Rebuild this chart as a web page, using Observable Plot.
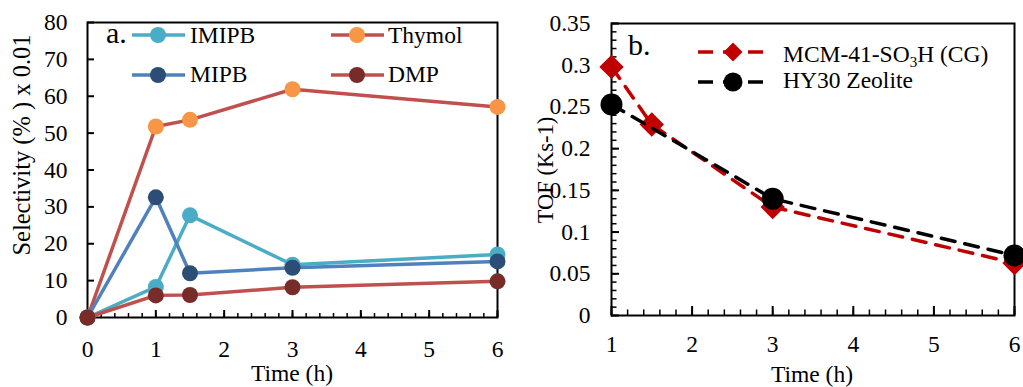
<!DOCTYPE html>
<html>
<head>
<meta charset="utf-8">
<script src="https://cdn.jsdelivr.net/npm/d3@7"></script>
<script src="https://cdn.jsdelivr.net/npm/@observablehq/plot@0.6"></script>
<style>
  html, body { margin: 0; padding: 0; background: white; }
  #wrap { position: relative; width: 1023px; height: 387px; overflow: hidden; font-family: "Liberation Serif", "Times New Roman", serif; }
  #left, #right, #overlay { position: absolute; top: 0; }
  #left { left: 0; }
  #right { left: 520px; }
  #overlay { left: 0; pointer-events: none; }
  svg { overflow: visible; }
</style>
</head>
<body>
<div id="wrap">
  <div id="left"></div>
  <div id="right"></div>
  <svg id="overlay" width="1023" height="387"></svg>
</div>
<script>
// ---------- Panel a data ----------
const times = [0, 1, 1.5, 3, 6];
const imipb = [0, 8.3, 27.7, 14.3, 17.1];
const thymol = [0, 51.8, 53.6, 61.9, 57.1];
const mipb = [0, 32.6, 12.0, 13.5, 15.2];
const dmp = [0, 6.0, 6.1, 8.2, 9.8];
const seriesNames = ["IMIPB", "Thymol", "MIPB", "DMP"];
const leftXTicks = [0, 1, 2, 3, 4, 5, 6];
const leftYTicks = [0, 10, 20, 30, 40, 50, 60, 70, 80];

// ---------- Panel b data ----------
const mcmTimes = [1, 1.5, 3, 6];
const mcm = [0.298, 0.229, 0.13, 0.063];
const hyTimes = [1, 3, 6];
const hy30 = [0.253, 0.140, 0.072];
const tofNames = ["MCM-41-SO3H (CG)", "HY30 Zeolite"];
const rightXTicks = [1, 2, 3, 4, 5, 6];
const rightYTicks = [0, 0.05, 0.1, 0.15, 0.2, 0.25, 0.3, 0.35];

// ---------- styles ----------
const FONT = "'Liberation Serif', 'Times New Roman', serif";
const FS = 23.5;
const leftStyles = {
  IMIPB: {line: "#4BACC6", marker: "#4BACC6"},
  Thymol: {line: "#C0504D", marker: "#F79646"},
  MIPB: {line: "#4F81BD", marker: "#2C4D75"},
  DMP: {line: "#C0504D", marker: "#772C2A"}
};
const leftValues = {IMIPB: imipb, Thymol: thymol, MIPB: mipb, DMP: dmp};

const leftRows = seriesNames.map(name =>
  times.map((t, i) => ({series: name, time: t, value: leftValues[name][i]})));

const fmt = d => String(+d.toFixed(2));

// ---------- Left plot ----------
const L = {width: 520, height: 387, ml: 87, mr: 23, mt: 22, mb: 70};
const LH = L.height - L.mt - L.mb, LW = L.width - L.ml - L.mr;
const leftMarks = [
  Plot.frame({stroke: "black", strokeWidth: 2}),
  Plot.tickX(d3.range(0, 6.0001, 0.2), {x: d => d, insetTop: LH - 4, stroke: "black", strokeWidth: 1.5}),
  Plot.tickX(leftXTicks, {x: d => d, insetTop: LH - 7, stroke: "black", strokeWidth: 2}),
  Plot.tickY(leftYTicks, {y: d => d, insetRight: LW - 7, stroke: "black", strokeWidth: 2}),
  Plot.axisX({ticks: leftXTicks, tickSize: 0, tickPadding: 23, label: null, tickFormat: fmt, fontSize: FS}),
  Plot.axisY({ticks: leftYTicks, tickSize: 0, tickPadding: 20, label: null, tickFormat: fmt, fontSize: FS})
];
leftRows.forEach(rows => {
  const st = leftStyles[rows[0].series];
  leftMarks.push(Plot.line(rows, {x: "time", y: "value", stroke: st.line, strokeWidth: 3.5}));
  leftMarks.push(Plot.dot(rows, {x: "time", y: "value", fill: st.marker, r: 8}));
});
const leftPlot = Plot.plot({
  width: L.width, height: L.height,
  marginLeft: L.ml, marginRight: L.mr, marginTop: L.mt, marginBottom: L.mb,
  x: {domain: [0, 6]},
  y: {domain: [0, 80]},
  style: {fontFamily: FONT, fontSize: FS + "px", color: "black", background: "transparent", overflow: "visible"},
  marks: leftMarks
});
document.getElementById("left").appendChild(leftPlot);

// ---------- Right plot ----------
const R = {width: 503, height: 387, ml: 91, mr: 9, mt: 23, mb: 72};
const RH = R.height - R.mt - R.mb, RW = R.width - R.ml - R.mr;
const mcmRows = mcmTimes.map((t, i) => ({series: tofNames[0], time: t, value: mcm[i]}));
const hyRows = hyTimes.map((t, i) => ({series: tofNames[1], time: t, value: hy30[i]}));
const rightPlot = Plot.plot({
  width: R.width, height: R.height,
  marginLeft: R.ml, marginRight: R.mr, marginTop: R.mt, marginBottom: R.mb,
  x: {domain: [1, 6]},
  y: {domain: [0, 0.35]},
  style: {fontFamily: FONT, fontSize: FS + "px", color: "black", background: "transparent", overflow: "visible"},
  marks: [
    Plot.frame({stroke: "black", strokeWidth: 2}),
    Plot.tickX(d3.range(1, 6.0001, 0.2), {x: d => d, insetTop: RH - 5.5, stroke: "black", strokeWidth: 1.5}),
    Plot.tickX(rightXTicks, {x: d => d, insetTop: RH - 9, stroke: "black", strokeWidth: 2}),
    Plot.tickY(d3.range(0, 0.3501, 0.01), {y: d => d, insetRight: RW - 5.5, stroke: "black", strokeWidth: 1.5}),
    Plot.tickY(rightYTicks, {y: d => d, insetRight: RW - 8, stroke: "black", strokeWidth: 2}),
    Plot.axisX({ticks: rightXTicks, tickSize: 0, tickPadding: 20, label: null, tickFormat: fmt, fontSize: FS}),
    Plot.axisY({ticks: rightYTicks, tickSize: 0, tickPadding: 21, label: null, tickFormat: fmt, fontSize: FS}),
    Plot.line(mcmRows, {x: "time", y: "value", stroke: "#C00000", strokeWidth: 3.5, strokeDasharray: "14,10"}),
    Plot.dot(mcmRows, {x: "time", y: "value", fill: "#C00000", symbol: "diamond2", r: 11}),
    Plot.line(hyRows, {x: "time", y: "value", stroke: "black", strokeWidth: 3.5, strokeDasharray: "14,10"}),
    Plot.dot(hyRows, {x: "time", y: "value", fill: "black", r: 11})
  ]
});
document.getElementById("right").appendChild(rightPlot);

// ---------- Overlay: titles and legends ----------
const ov = d3.select("#overlay").attr("font-family", FONT).attr("fill", "black");
ov.append("text").attr("x", 292).attr("y", 381).attr("text-anchor", "middle").attr("font-size", FS).text("Time (h)");
ov.append("text").attr("x", 812).attr("y", 382).attr("text-anchor", "middle").attr("font-size", FS).text("Time (h)");
ov.append("text").attr("transform", "translate(30,145) rotate(-90)").attr("text-anchor", "middle").attr("font-size", 24.5).text("Selectivity (% ) x 0.01");
ov.append("text").attr("transform", "translate(553,170) rotate(-90)").attr("text-anchor", "middle").attr("font-size", 22.5).text("TOF (Ks-1)");

// panel letters
ov.append("text").attr("x", 106).attr("y", 43).attr("font-size", 30).text("a.");
ov.append("text").attr("x", 628).attr("y", 55).attr("font-size", 30).text("b.");

// left legend
const legPos = [
  {cx: 158, cy: 35, tx: 190, ty: 43},
  {cx: 357, cy: 35, tx: 388, ty: 43},
  {cx: 158, cy: 75, tx: 190, ty: 82},
  {cx: 357, cy: 75, tx: 388, ty: 82}
];
seriesNames.forEach((name, i) => {
  const p = legPos[i], st = leftStyles[name];
  ov.append("line").attr("x1", p.cx - 26).attr("x2", p.cx + 27).attr("y1", p.cy).attr("y2", p.cy)
    .attr("stroke", st.line).attr("stroke-width", 3.5);
  ov.append("circle").attr("cx", p.cx).attr("cy", p.cy).attr("r", 8).attr("fill", st.marker);
  ov.append("text").attr("x", p.tx).attr("y", p.ty).attr("font-size", FS).text(name);
});

// right legend
const rl = [
  {color: "#C00000", cy: 52, shape: "diamond"},
  {color: "black", cy: 82, shape: "circle"}
];
rl.forEach(d => {
  ov.append("line").attr("x1", 698).attr("x2", 763).attr("y1", d.cy).attr("y2", d.cy)
    .attr("stroke", d.color).attr("stroke-width", 3.5).attr("stroke-dasharray", "15,10");
  if (d.shape === "diamond") {
    const h = 9.5;
    ov.append("path").attr("d", `M733,${d.cy - h}L${733 + h},${d.cy}L733,${d.cy + h}L${733 - h},${d.cy}Z`).attr("fill", d.color);
  } else {
    ov.append("circle").attr("cx", 733).attr("cy", d.cy).attr("r", 9.5).attr("fill", d.color);
  }
});
const t1 = ov.append("text").attr("x", 783).attr("y", 62).attr("font-size", FS);
t1.append("tspan").text("MCM-41-SO");
t1.append("tspan").attr("dy", 5).attr("font-size", 15).text("3");
t1.append("tspan").attr("dy", -5).text("H (CG)");
ov.append("text").attr("x", 783).attr("y", 88).attr("font-size", FS).text(tofNames[1]);
</script>
</body>
</html>
